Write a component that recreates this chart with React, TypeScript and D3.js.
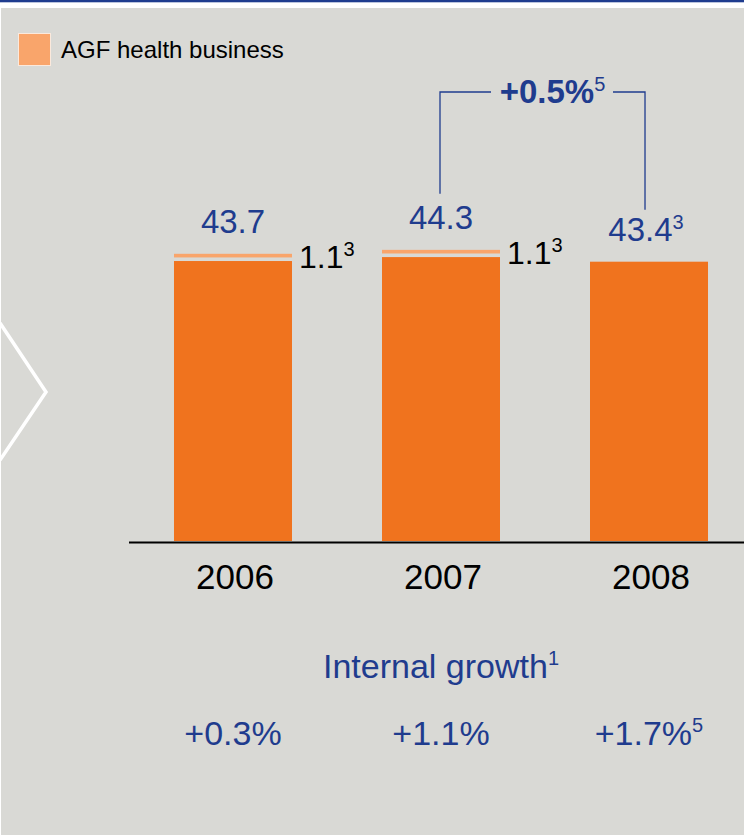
import React from "react";
import * as d3 from "d3";

const years = ["2006", "2007", "2008"];
const coreValues = [42.6, 43.2, 42.5];
const agfValues = [1.1, 1.1, 0];
const totalLabels = ["43.7", "44.3", "43.4"];
const totalSup = ["", "", "3"];
const agfLabels = ["1.1", "1.1", ""];
const agfSup = ["3", "3", ""];
const growthLabels = ["+0.3%", "+1.1%", "+1.7%"];
const growthSup = ["", "", "5"];
const bracketLabel = "+0.5%";
const bracketSup = "5";
const legendLabel = "AGF health business";
const growthTitle = "Internal growth";
const growthTitleSup = "1";

const W = 744;
const H = 835;
const BLUE = "#1f3c8e";
const DARK = "#f0731e";
const LIGHT = "#f9a56b";
const BG = "#d9d9d5";
const FONT = "'Liberation Sans', Arial, Helvetica, sans-serif";

export default function App() {
  const x = d3.scaleBand<string>().domain(years).range([129, 753]).paddingInner(0.4327).paddingOuter(0.2163);
  const y = d3.scaleLinear().domain([0, 50]).range([541, 212.4]);
  const bw = x.bandwidth();
  const cx = (yr: string) => (x(yr) as number) + bw / 2;
  const gap = 3.6;

  const i7 = 1, i8 = 2;
  const top7 = y(coreValues[i7] + agfValues[i7]);
  const top8 = y(coreValues[i8] + agfValues[i8]);
  const bx1 = cx(years[i7]) - 1;
  const bx2 = cx(years[i8]) - 4;
  const by = 92;

  return (
    <svg width={W} height={H} style={{ position: "absolute", left: 0, top: 0 }} fontFamily={FONT}>
      <rect x={0} y={0} width={W} height={H} fill="#ffffff" />
      <rect x={1} y={8} width={W - 1} height={H - 8} fill={BG} />
      <rect x={0} y={0} width={W} height={2.3} fill={BLUE} />
      {/* chevron */}
      <polyline points="0,323 46,392 0,460" fill="none" stroke="#ffffff" strokeWidth={3.5} />

      {/* legend */}
      <rect x={18.5} y={33.5} width={32} height={32} fill={LIGHT} stroke="#fbe9dc" strokeWidth={1} />
      <text x={61} y={58} fontSize={24} fill="#000">{legendLabel}</text>

      {/* bars */}
      {years.map((yr, i) => (
        <g key={yr}>
          <rect x={x(yr)} y={y(coreValues[i])} width={bw} height={y(0) - y(coreValues[i])} fill={DARK} />
          {agfValues[i] > 0 && (
            <rect
              x={x(yr)}
              y={y(coreValues[i] + agfValues[i])}
              width={bw}
              height={y(coreValues[i]) - y(coreValues[i] + agfValues[i]) - gap}
              fill={LIGHT}
            />
          )}
          <text x={cx(yr) - (totalSup[i] ? 3 : 0)} y={y(coreValues[i] + agfValues[i]) - 21} fontSize={33} fill={BLUE} textAnchor="middle">
            {totalLabels[i]}
            {totalSup[i] && <tspan fontSize={20} dy={-12}>{totalSup[i]}</tspan>}
          </text>
          {agfLabels[i] && (
            <text x={(x(yr) as number) + bw + 7} y={y(coreValues[i]) + 7} fontSize={32} fill="#000">
              {agfLabels[i]}
              <tspan fontSize={20} dy={-12}>{agfSup[i]}</tspan>
            </text>
          )}
          <text x={cx(yr) + 2} y={589} fontSize={35} fill="#000" textAnchor="middle">{yr}</text>
          <text x={cx(yr)} y={745} fontSize={34} fill={BLUE} textAnchor="middle">
            {growthLabels[i]}
            {growthSup[i] && <tspan fontSize={20} dy={-13}>{growthSup[i]}</tspan>}
          </text>
        </g>
      ))}

      {/* axis */}
      <line x1={129} x2={W} y1={542.5} y2={542.5} stroke="#000" strokeWidth={2} />

      {/* bracket */}
      <polyline points={`${bx1},${top7 - 56} ${bx1},${by} ${bx1 + 51},${by}`} fill="none" stroke={BLUE} strokeWidth={1.3} />
      <polyline points={`${bx2 - 32},${by} ${bx2},${by} ${bx2},${top8 - 52}`} fill="none" stroke={BLUE} strokeWidth={1.3} />
      <text x={(bx1 + bx2) / 2 + 10} y={103} fontSize={33} fill={BLUE} textAnchor="middle">
        <tspan fontWeight="bold">{bracketLabel}</tspan>
        <tspan fontSize={20} dy={-12}>{bracketSup}</tspan>
      </text>

      {/* internal growth */}
      <text x={cx(years[1])} y={678} fontSize={34} fill={BLUE} textAnchor="middle">
        {growthTitle}
        <tspan fontSize={20} dy={-13}>{growthTitleSup}</tspan>
      </text>
    </svg>
  );
}
